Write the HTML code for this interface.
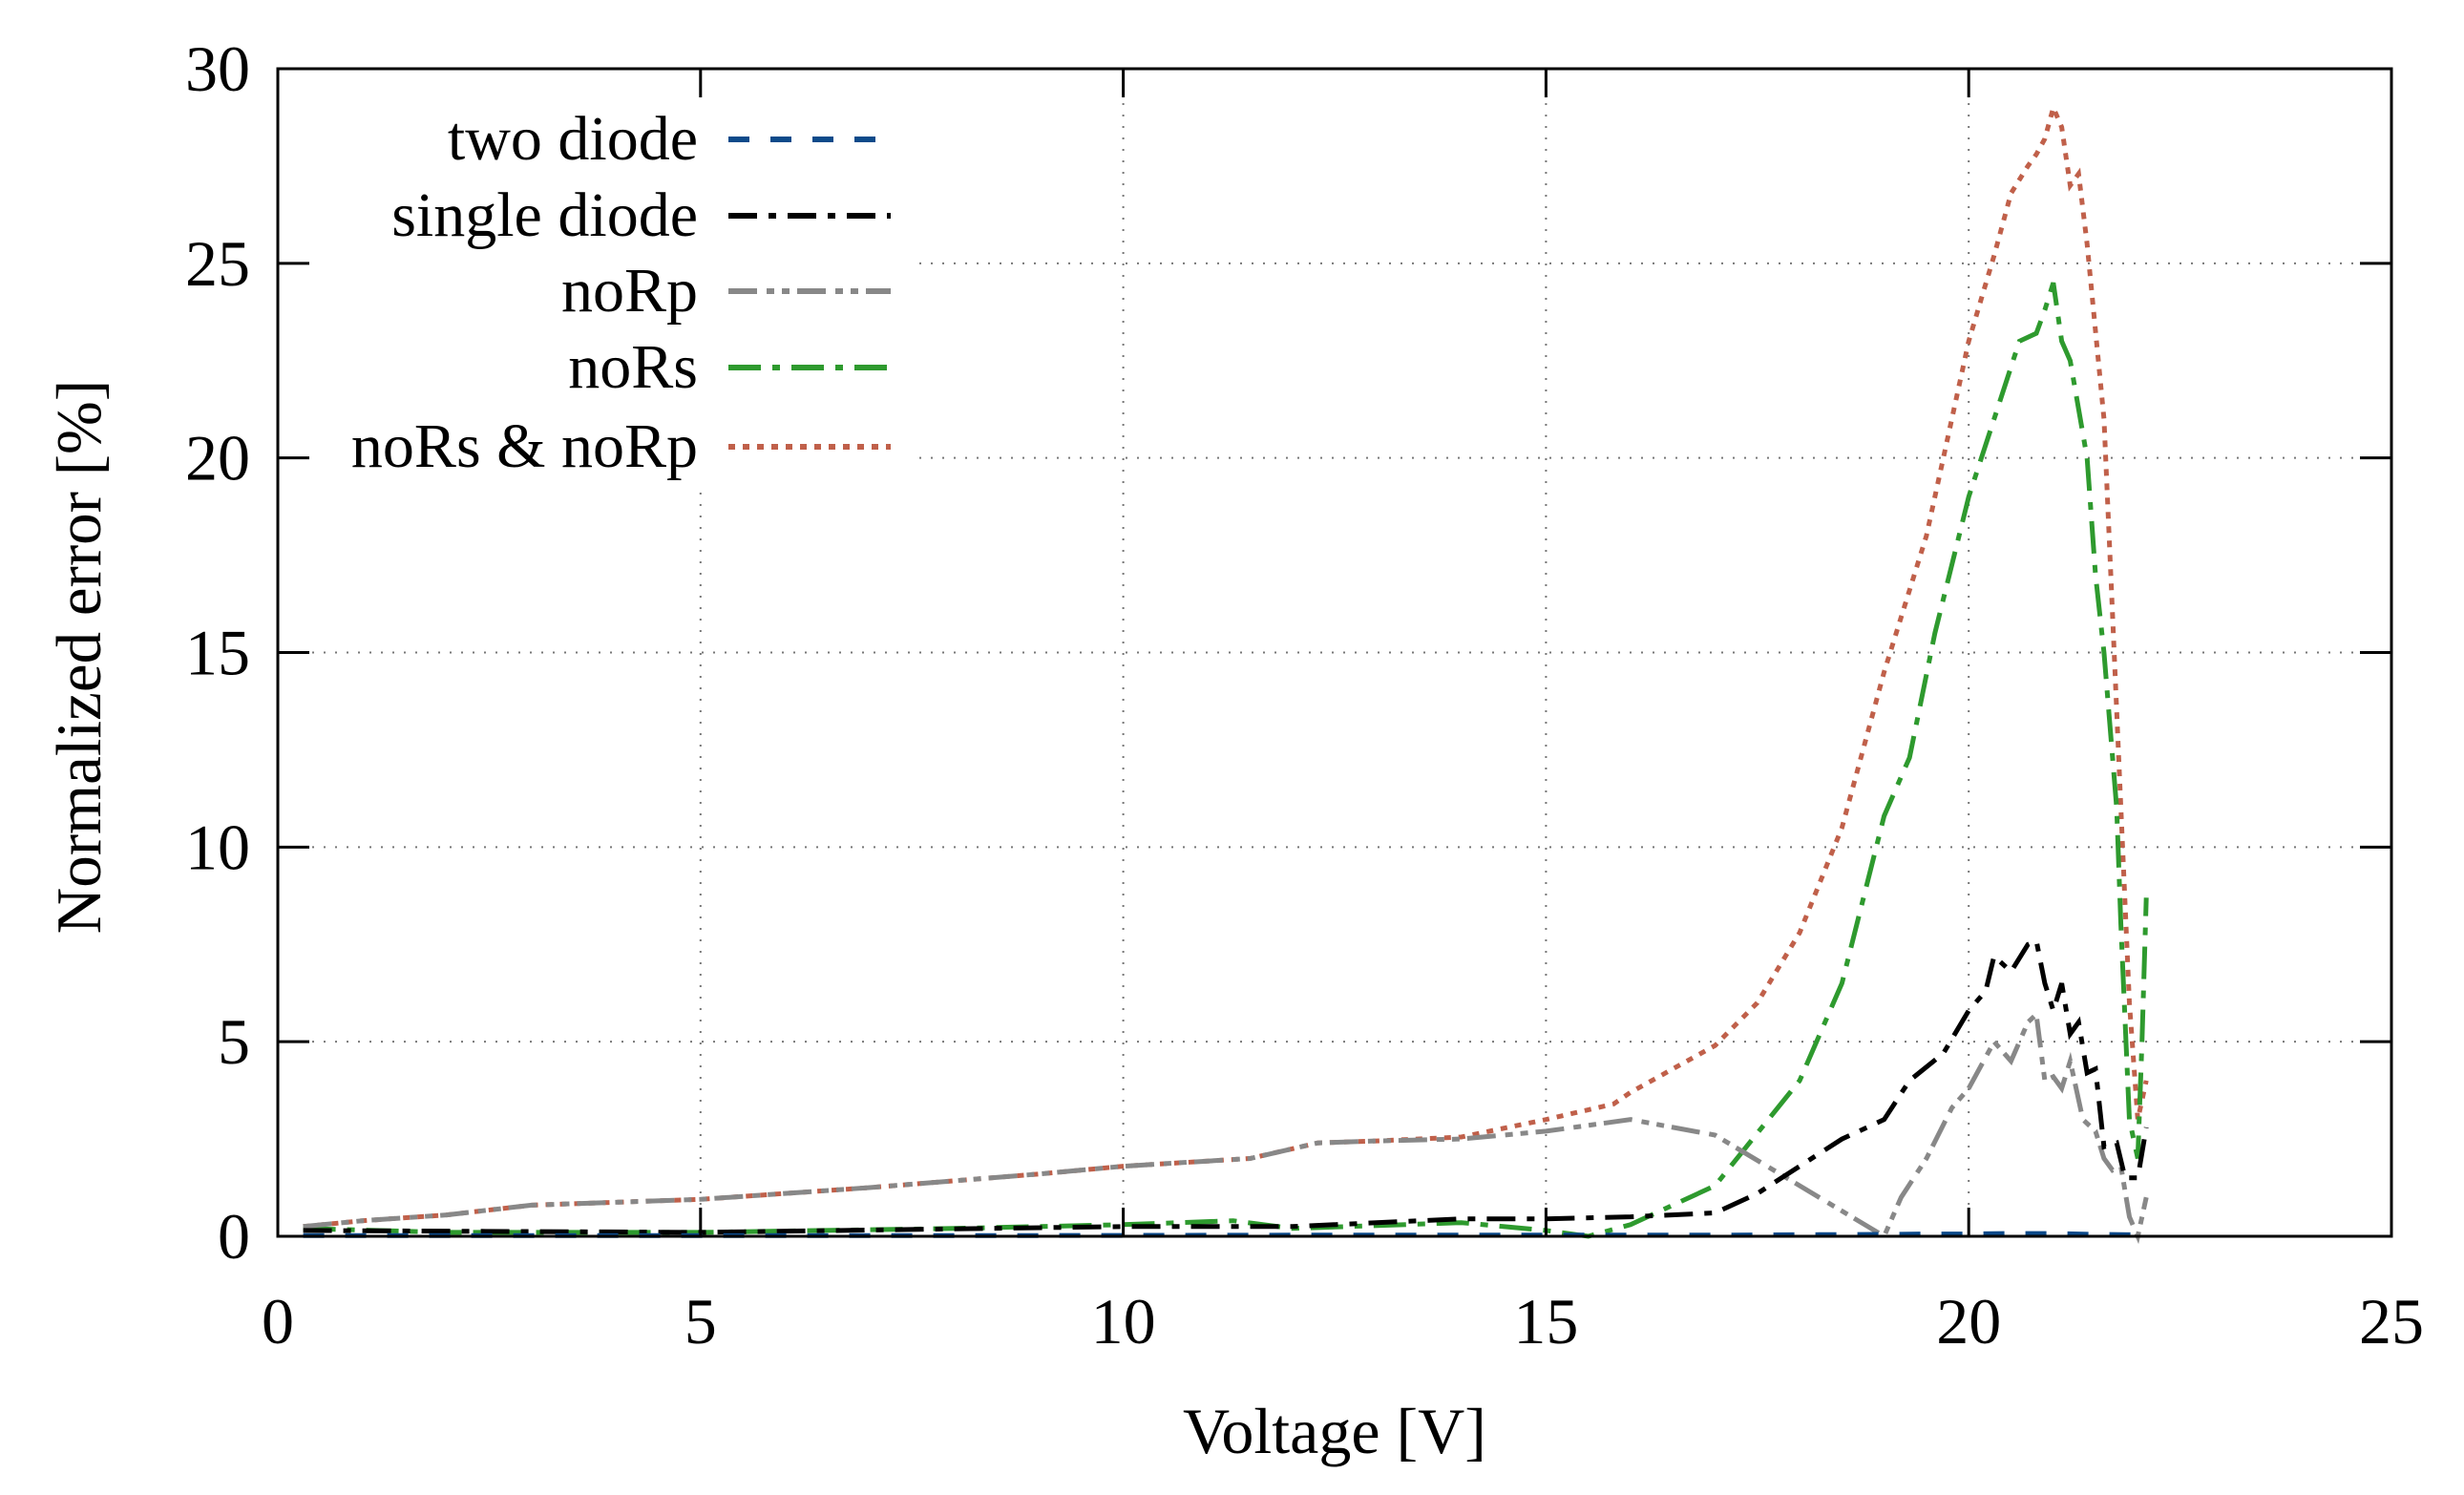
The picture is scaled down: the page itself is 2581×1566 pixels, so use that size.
<!DOCTYPE html>
<html><head><meta charset="utf-8"><style>
body{margin:0;background:#fff}
svg{display:block}
text{font-family:"Liberation Serif",serif;fill:#000}
</style></head><body>
<svg id="chart" width="2581" height="1566" viewBox="0 0 2581 1566" xmlns="http://www.w3.org/2000/svg">
<g id="grid"></g>
<rect x="300" y="106" width="660" height="400" fill="#fff"/>
<g id="series"></g>
<rect x="291" y="72" width="2214" height="1223" fill="none" stroke="#000" stroke-width="3"/>
<g id="axes"></g>
<text x="1398" y="1522" font-size="68" text-anchor="middle">Voltage [V]</text>
<text transform="translate(105,688) rotate(-90)" font-size="67" text-anchor="middle">Normalized error [%]</text>
<g id="legend"></g>
</svg>
<script>
const xTicks=[0,5,10,15,20,25];
const yTicks=[0,5,10,15,20,25,30];
const seriesNames=["two diode","single diode","noRp","noRs","noRs & noRp"];
const twoX=[0.3,3,6,9,12,15,17,18,19,19.5,20,20.5,21,21.5,22];
const twoY=[0.02,0.02,0.02,0.02,0.03,0.03,0.03,0.04,0.05,0.06,0.06,0.07,0.07,0.05,0.04];
const singleX=[0.3,5,10,12,14,15,16,17,17.5,18,18.5,19,19.3,19.7,20,20.2,20.3,20.5,20.7,20.8,20.9,21,21.1,21.2,21.3,21.4,21.5,21.6,21.75,21.85,22,22.1];
const singleY=[0.15,0.1,0.25,0.25,0.45,0.45,0.5,0.6,1.1,1.8,2.5,3,4,4.7,5.8,6.3,7.2,6.8,7.5,7.6,6.5,5.8,6.5,5.2,5.5,4.2,4.3,2.3,2.4,1.5,1.5,2.8];
const noRpX=[0.3,1,2,3,5,7,9,10,11.5,12.3,13,14,15,16,17,18,19,19.2,19.5,19.8,20,20.3,20.5,20.7,20.8,20.9,21,21.1,21.2,21.35,21.5,21.6,21.7,21.8,21.9,22,22.1];
const noRpY=[0.25,0.4,0.55,0.8,0.95,1.25,1.6,1.8,2.0,2.4,2.45,2.5,2.7,3.0,2.6,1.3,0,1,2,3.3,3.8,5,4.5,5.5,5.7,4,4.1,3.8,4.5,3.0,2.7,2.0,1.7,1.8,0.5,0,1];
const noRsX=[0.3,2,5,8,10,11.3,12,14,15,15.5,16,17,18,18.5,19,19.3,19.6,20,20.3,20.6,20.8,20.9,21,21.1,21.2,21.4,21.5,21.6,21.75,21.8,21.9,22,22.05,22.1];
const noRsY=[0.2,0.1,0.1,0.2,0.3,0.4,0.2,0.35,0.15,0,0.3,1.3,4,6.5,10.8,12.3,15.5,19,21,23,23.2,23.8,24.5,23,22.5,20,17,15,11,8,3,2,5,8.7];
const bothX=[0.3,1,2,3,5,7,9,10,11.5,12.3,13,14,15,15.8,16,17,17.5,18,18.5,19,19.5,19.8,20,20.3,20.5,20.7,20.8,20.9,21,21.1,21.2,21.3,21.4,21.6,21.7,21.8,21.9,22,22.1];
const bothY=[0.25,0.4,0.55,0.8,0.95,1.25,1.6,1.8,2.0,2.4,2.45,2.55,3.0,3.4,3.7,4.9,6,7.8,10.5,14.5,18,21,23,25.2,26.8,27.5,27.8,28.2,29,28.5,27,27.3,25.5,21,16,11,6,3,4];

const L=291,R=2505,T=72,B=1295;
const sx=v=>L+(v/25)*(R-L);
const sy=v=>B-(v/30)*(B-T);
const NS="http://www.w3.org/2000/svg";
function mk(tag,attrs,parent){const e=document.createElementNS(NS,tag);for(const k in attrs)e.setAttribute(k,attrs[k]);parent.appendChild(e);return e;}
const grid=document.getElementById('grid'),axes=document.getElementById('axes'),ser=document.getElementById('series'),leg=document.getElementById('legend');
xTicks.forEach(t=>{
  const x=sx(t);
  if(t>0&&t<25){const g=mk('line',{x1:x,y1:T,x2:x,y2:B,stroke:'#777','stroke-width':2,'stroke-dasharray':'2 10'},grid);
  
  }
  const a=mk('line',{x1:x,y1:B,x2:x,y2:B-30,stroke:'#000','stroke-width':3},axes);
  
  
  const b=mk('line',{x1:x,y1:T,x2:x,y2:T+30,stroke:'#000','stroke-width':3},axes);
  
  
  const tx=mk('text',{x:x,y:1407,'font-size':68,'text-anchor':'middle'},axes);tx.textContent=t;
  
  
});
yTicks.forEach(t=>{
  const y=sy(t);
  if(t>0&&t<30){const g=mk('line',{x1:L,y1:y,x2:R,y2:y,stroke:'#777','stroke-width':2,'stroke-dasharray':'2 10'},grid);
  
  }
  const a=mk('line',{x1:L,y1:y,x2:L+33,y2:y,stroke:'#000','stroke-width':3},axes);
  
  
  const b=mk('line',{x1:R,y1:y,x2:R-33,y2:y,stroke:'#000','stroke-width':3},axes);
  
  
  const tx=mk('text',{x:262,y:y+23,'font-size':68,'text-anchor':'end'},axes);tx.textContent=t;
  
  
});
const styles=[
 {c:'#0c4a8a',d:'22 22',xs:twoX,ys:twoY},
 {c:'#000',d:'30 12 8 12',xs:singleX,ys:singleY},
 {c:'#888',d:'30 10 8 8 8 8',xs:noRpX,ys:noRpY},
 {c:'#2e9a2e',d:'34 12 8 12',xs:noRsX,ys:noRsY},
 {c:'#c0604a',d:'7 8',xs:bothX,ys:bothY}
];
const legY=[146,226,305,385,468];
const order=[4,3,2,1,0];
order.forEach(i=>{
  const s=styles[i];
  const pts=s.xs.map((x,k)=>sx(x).toFixed(1)+','+sy(s.ys[k]).toFixed(1)).join(' ');
  const p=mk('polyline',{points:pts,fill:'none',stroke:s.c,'stroke-width':5,'stroke-dasharray':s.d},ser);
  
  
});
styles.forEach((s,i)=>{
  const y=legY[i];
  const t=mk('text',{x:731,y:y+21,'font-size':66,'text-anchor':'end'},leg);t.textContent=seriesNames[i];
  
  
  const l=mk('line',{x1:763,y1:y,x2:933,y2:y,stroke:s.c,'stroke-width':6,'stroke-dasharray':s.d},leg);
  
  
});
</script>
</body></html>
